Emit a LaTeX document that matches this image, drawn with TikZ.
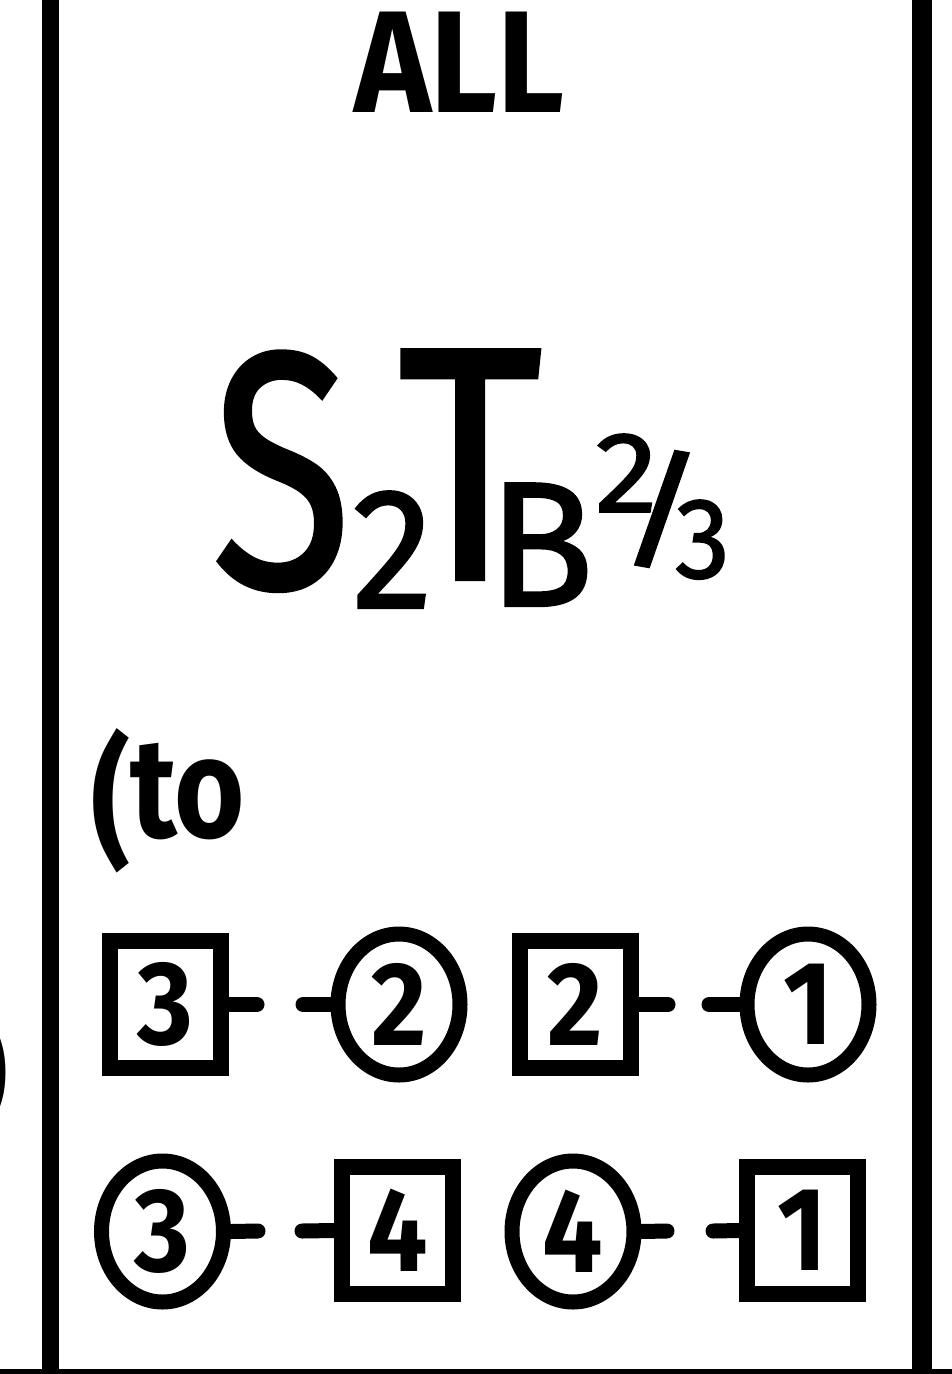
\documentclass[tikz,border=0pt]{standalone}
\usepackage{fontspec}
\usepackage{graphicx}
\setmainfont{Fira Sans}
\newfontfamily\formfont[FakeBold=1.3]{Fira Sans}
\usetikzlibrary{shapes.geometric}
\newcommand\fsz[1]{\fontsize{#1}{#1}\selectfont}
\newcommand\nx[2]{\scalebox{#1}[1]{#2}}
\begin{document}
\begin{tikzpicture}[x=1pt,y=-1pt,
  txt/.style={inner sep=0pt, outer sep=0pt, anchor=base west},
  sqnode/.style={draw, line width=16pt, rectangle, minimum width=111pt, minimum height=127pt, inner sep=0pt, font=\fsz{119}\bfseries},
  rdnode/.style={draw, line width=15pt, ellipse, minimum width=122pt, minimum height=141pt, inner sep=0pt, font=\fsz{119}\bfseries},
  stub/.style={line width=15pt, line cap=round},
  frameline/.style={line width=#1}
]
\clip (0,0) rectangle (952,1374);
\fill[white] (0,0) rectangle (952,1374);
% frame lines
\draw[frameline=17pt] (50.5,-20) -- (50.5,1400);
\draw[frameline=20pt] (922,-20) -- (922,1400);
\draw[frameline=6pt] (-20,1372) -- (972,1372);
% partial parenthesis from neighbouring panel
\node[inner sep=0pt, outer sep=0pt, anchor=base east] (rpar) at (9,1122) {\fsz{142}\bfseries )};
% title
\node[txt] (all) at (354,112) {\fsz{145}\bfseries\nx{0.9}{ALL}};
% formula
\node[txt] (fS) at (212,587) {\formfont\fsz{336}\nx{0.76}{S}};
\node[txt] (f2) at (352,608) {\formfont\fsz{172}\nx{0.95}{2}};
\node[txt] (fT) at (398,579) {\formfont\fsz{332}\nx{0.84}{T}};
\node[txt] (fB) at (488,606) {\formfont\fsz{178}\nx{0.98}{B}};
\node[txt] (fs2) at (595,512) {\formfont\fsz{115}\nx{1.1}{2}};
\node[txt] (fsl) at (617,554) {\formfont\fsz{128}\nx{1.35}{/}};
\node[txt] (fs3) at (675,578) {\formfont\fsz{115}\nx{0.96}{3}};
% (to
\node[txt] (to) at (91,837) {\fsz{142}\bfseries\nx{0.85}{\raisebox{-13pt}{(}to}};
% nodes row 1
\node[sqnode] (b3) at (165.5,1004.5) {\nx{0.9}{3}};
\node[rdnode] (c2) at (399,1004.5) {\nx{0.9}{2}};
\node[sqnode] (b2) at (575.5,1004.5) {\nx{0.9}{2}};
\node[rdnode] (c1) at (808,1004.5) {\nx{0.9}{1}};
% nodes row 2
\node[rdnode] (c3) at (162.5,1231.5) {\nx{0.9}{3}};
\node[sqnode] (b4) at (397.5,1230.5) {\nx{0.9}{4}};
\node[rdnode] (c4) at (573,1231.5) {\nx{0.9}{4}};
\node[sqnode] (b1) at (802.5,1230.5) {\nx{0.9}{1}};
% connector ends
\coordinate (s1a) at (257,1004.5);
\coordinate (s1b) at (303,1004.5);
\coordinate (s2a) at (668,1004.5);
\coordinate (s2b) at (709,1004.5);
\coordinate (s3a) at (258,1231);
\coordinate (s3b) at (302,1231);
\coordinate (s4a) at (667,1231);
\coordinate (s4b) at (713,1231);
\draw[stub] (b3.east) -- (s1a);
\draw[stub] (c2.west) -- (s1b);
\draw[stub] (b2.east) -- (s2a);
\draw[stub] (c1.west) -- (s2b);
\draw[stub] (c3.east) -- (s3a);
\draw[stub] (b4.west) -- (s3b);
\draw[stub] (c4.east) -- (s4a);
\draw[stub] (b1.west) -- (s4b);
\end{tikzpicture}
\end{document}
